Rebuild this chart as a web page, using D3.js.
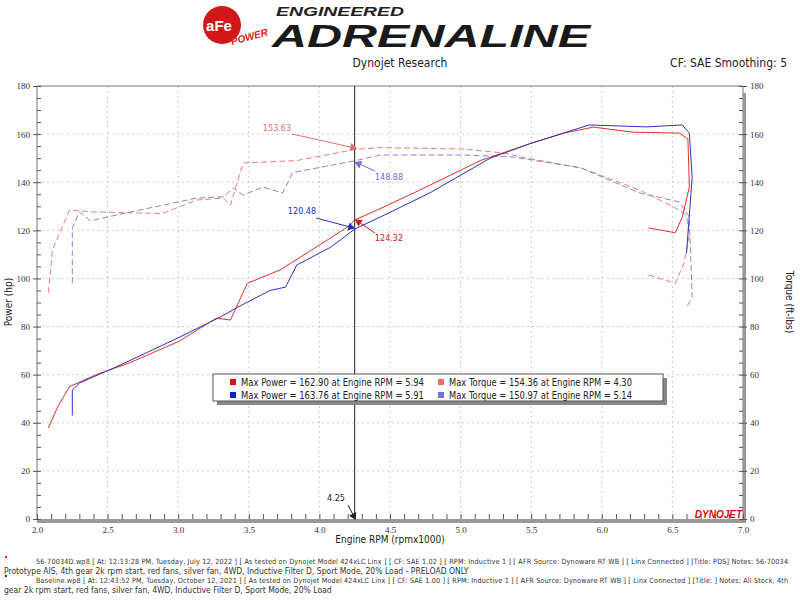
<!DOCTYPE html>
<html><head><meta charset="utf-8">
<script src="https://cdn.jsdelivr.net/npm/d3@7"></script>
<style>body{margin:0;background:#fff}svg{font-family:"DejaVu Sans Condensed","Liberation Sans Narrow",sans-serif}</style>
</head><body><svg id="c" width="800" height="600"></svg>
<script>
const redPower=[[2.08,37.8],[2.15,47],[2.23,55],[2.42,60],[2.66,65],[3.01,74],[3.27,83.5],[3.37,82.7],[3.49,98],[3.72,103.5],[3.95,112],[4.20,121.4],[4.25,124.3],[4.43,129],[4.71,136.7],[5.14,149],[5.49,156],[5.73,160.4],[5.94,162.9],[6.22,160.8],[6.55,160.4],[6.61,158],[6.62,138],[6.57,125.5],[6.52,119],[6.33,121]];
const bluePower=[[2.25,43],[2.25,53.6],[2.30,56.5],[2.59,64],[3.01,75.6],[3.30,84],[3.42,88],[3.65,95],[3.76,96.4],[3.84,105.6],[4.08,113],[4.25,120.5],[4.43,125.5],[4.78,135.5],[5.21,150],[5.49,156],[5.91,163.8],[6.32,163],[6.57,163.8],[6.62,160.4],[6.64,142],[6.60,110.5]];
const redTorque=[[2.08,94],[2.11,112],[2.23,128.4],[2.42,127.6],[2.89,127],[3.13,132.6],[3.32,133.4],[3.37,130.5],[3.46,148],[3.84,149],[4.25,153.6],[4.43,154.4],[5.02,153.8],[5.33,152],[5.42,150.5],[5.85,146],[6.27,136.7],[6.55,128.4],[6.60,126],[6.62,118],[6.58,106],[6.52,98],[6.33,101.4]];
const blueTorque=[[2.25,98],[2.25,121],[2.30,127.6],[2.38,124],[2.66,127.6],[3.13,133.4],[3.32,134],[3.39,137.6],[3.46,134.6],[3.60,138],[3.74,135.5],[3.81,144],[4.08,147],[4.25,148.9],[4.43,151.3],[5.02,151.3],[5.37,150.5],[5.85,146],[6.27,135.5],[6.55,131.8],[6.62,125.5],[6.64,92],[6.60,88]];
const xTicks=[2.0,2.5,3.0,3.5,4.0,4.5,5.0,5.5,6.0,6.5,7.0];
const yTicks=[0,20,40,60,80,100,120,140,160,180];
const legendItems=[["#e01010","Max Power = 162.90 at Engine RPM = 5.94"],["#e86a6a","Max Torque = 154.36 at Engine RPM = 4.30"],["#1020d0","Max Power = 163.76 at Engine RPM = 5.91"],["#7070e0","Max Torque = 150.97 at Engine RPM = 5.14"]];
const notes=[["#e01010","56-70034D.wp8 [ At: 12:13:28 PM, Tuesday, July 12, 2022 ] [ As tested on Dynojet Model 424xLC Linx ] [ CF: SAE 1.02 ] [ RPM: Inductive 1 ] [ AFR Source: Dynoware RT WB ] [ Linx Connected ] [Title: PDS]  Notes: 56-70034","Prototype AIS, 4th gear 2k rpm start, red fans, silver fan, 4WD, Inductive Filter D, Sport Mode, 20% Load - PRELOAD ONLY"],["#1020d0","Baseline.wp8 [ At: 12:43:52 PM, Tuesday, October 12, 2021 ] [ As tested on Dynojet Model 424xLC Linx ] [ CF: SAE 1.00 ] [ RPM: Inductive 1 ] [ AFR Source: Dynoware RT WB ] [ Linx Connected ] [Title: ]  Notes: All Stock, 4th","gear 2k rpm start, red fans, silver fan, 4WD, Inductive Filter D, Sport Mode, 20% Load"]];

const svg=d3.select("#c");
const x=d3.scaleLinear().domain([2,7]).range([37,743]);
const y=d3.scaleLinear().domain([0,180]).range([519,86]);

// header
const lg=svg.append("g");
lg.append("circle").attr("cx",222).attr("cy",25).attr("r",19).attr("fill","#d01818");
lg.append("text").attr("x",219).attr("y",31).attr("text-anchor","middle").attr("font-size",15).attr("font-weight","bold").attr("fill","#fff").attr("font-family","Liberation Sans").text("aFe");
lg.append("text").attr("x",232).attr("y",45).attr("font-size",10).attr("font-style","italic").attr("font-weight","bold").attr("fill","#e02020").attr("font-family","Liberation Sans").attr("transform","rotate(-15,232,45)").text("POWER");
lg.append("text").attr("x",276).attr("y",16).attr("font-size",12).attr("font-style","italic").attr("font-weight","bold").attr("fill","#222").attr("font-family","Liberation Sans").attr("textLength",128).attr("lengthAdjust","spacingAndGlyphs").text("ENGINEERED");
lg.append("text").attr("x",272).attr("y",47).attr("font-size",31).attr("font-style","italic").attr("font-weight","bold").attr("fill","#1a1a1a").attr("font-family","Liberation Sans").attr("textLength",318).attr("lengthAdjust","spacingAndGlyphs").text("ADRENALINE");
svg.append("text").attr("x",400).attr("y",67).attr("text-anchor","middle").attr("font-size",12).attr("fill","#222").text("Dynojet Research");
svg.append("text").attr("x",787).attr("y",67).attr("text-anchor","end").attr("font-size",12).attr("fill","#222").text("CF: SAE Smoothing: 5");

// grid
svg.append("g").selectAll("line").data(xTicks.slice(1,-1)).join("line").attr("x1",d=>x(d)).attr("x2",d=>x(d)).attr("y1",86).attr("y2",519).attr("stroke","#ccc").attr("stroke-dasharray","2,3");
svg.append("g").selectAll("line").data(yTicks.slice(1,-1)).join("line").attr("y1",d=>y(d)).attr("y2",d=>y(d)).attr("x1",37).attr("x2",743).attr("stroke","#ccc").attr("stroke-dasharray","2,3");
svg.append("line").attr("x1",37).attr("x2",743).attr("y1",86).attr("y2",86).attr("stroke","#777");
svg.append("line").attr("x1",37).attr("x2",37).attr("y1",86).attr("y2",519).attr("stroke","#777");
svg.append("line").attr("x1",743).attr("x2",743).attr("y1",86).attr("y2",519).attr("stroke","#777");
svg.append("rect").attr("x",743).attr("y",93).attr("width",3).attr("height",426).attr("fill","#999");
svg.append("rect").attr("x",37).attr("y",519).attr("width",709).attr("height",4).attr("fill","#999");

// axes
const fmt=d3.format(".1f");
const xa=svg.append("g").attr("transform","translate(0,519)").call(d3.axisBottom(x).tickValues(xTicks).tickFormat(fmt).tickSize(0).tickPadding(8));
const xm=svg.append("g").attr("transform","translate(0,519)").call(d3.axisTop(x).ticks(50).tickFormat("").tickSize(5));
const ya=svg.append("g").attr("transform","translate(37,0)").call(d3.axisLeft(y).tickValues(yTicks).tickSize(4).tickPadding(3));
const ym=svg.append("g").attr("transform","translate(37,0)").call(d3.axisRight(y).ticks(36).tickFormat("").tickSize(4));
const yr=svg.append("g").attr("transform","translate(743,0)").call(d3.axisRight(y).tickValues(yTicks).tickSize(4).tickPadding(3));
const yrm=svg.append("g").attr("transform","translate(743,0)").call(d3.axisLeft(y).ticks(36).tickFormat("").tickSize(4));
[xa,xm,ya,ym,yr,yrm].forEach(g=>{g.select(".domain").remove();g.selectAll("line").attr("stroke","#555");g.selectAll("text").attr("font-size",9).attr("fill","#333").attr("font-family","Liberation Serif");});
svg.append("text").attr("x",390).attr("y",543).attr("text-anchor","middle").attr("font-size",10).attr("fill","#222").text("Engine RPM (rpmx1000)");
svg.append("text").attr("transform","translate(12,302) rotate(-90)").attr("text-anchor","middle").attr("font-size",10).attr("fill","#222").text("Power (hp)");
svg.append("text").attr("transform","translate(786,302) rotate(90)").attr("text-anchor","middle").attr("font-size",10).attr("fill","#222").text("Torque (ft-lbs)");
svg.append("text").attr("x",742).attr("y",518).attr("text-anchor","end").attr("font-size",10).attr("font-style","italic").attr("font-weight","bold").attr("fill","#d01010").attr("font-family","Liberation Sans").text("DYNOJET");

// lines
const line=d3.line().x(d=>x(d[0])).y(d=>y(d[1]));
svg.append("path").attr("d",line(redTorque)).attr("fill","none").attr("stroke","#e88080").attr("stroke-dasharray","6,3");
svg.append("path").attr("d",line(blueTorque)).attr("fill","none").attr("stroke","#8888cc").attr("stroke-dasharray","6,3");
svg.append("path").attr("d",line(redPower)).attr("fill","none").attr("stroke","#e03030");
svg.append("path").attr("d",line(bluePower)).attr("fill","none").attr("stroke","#3030c0");

// cursor
svg.append("line").attr("x1",x(4.25)).attr("x2",x(4.25)).attr("y1",86).attr("y2",519).attr("stroke","#222");
function ann(t,tx,ty,lx,ly,ax,ay,col){
 svg.append("line").attr("x1",lx).attr("y1",ly).attr("x2",ax).attr("y2",ay).attr("stroke",col);
 svg.append("path").attr("d",d3.symbol(d3.symbolTriangle,28)()).attr("transform",`translate(${ax},${ay}) rotate(${Math.atan2(ay-ly,ax-lx)*180/Math.PI+90})`).attr("fill",col);
 svg.append("text").attr("x",tx).attr("y",ty).attr("text-anchor","middle").attr("font-size",9).attr("fill",col).text(t);}
ann("153.63",277,131,292,134,x(4.25)-2,y(153.6)-2,"#e07070");
ann("148.88",389,180,375,171,x(4.25)+4,y(148.9)+3,"#7070d0");
ann("120.48",302,214,316,218,x(4.25)-4,y(120.5)-2,"#2030c0");
ann("124.32",389,241,375,233,x(4.25)+4,y(124.3)+2,"#d02020");
ann("4.25",336,501,348,505,x(4.25)-1,y(0)-3,"#222");

// legend
svg.append("rect").attr("x",217).attr("y",378).attr("width",450).attr("height",27).attr("fill","#888");
svg.append("rect").attr("x",213).attr("y",374).attr("width",450).attr("height",27).attr("fill","#fff").attr("stroke","#555");
legendItems.forEach((d,i)=>{const cx=i%2?438:230,cy=i<2?384:397;
 svg.append("rect").attr("x",cx).attr("y",cy-5).attr("width",6).attr("height",6).attr("fill",d[0]);
 svg.append("text").attr("x",cx+11).attr("y",cy+2).attr("font-size",10.5).attr("fill","#222").attr("font-family","DejaVu Sans").attr("textLength",183).attr("lengthAdjust","spacingAndGlyphs").text(d[1]);});

// notes
notes.forEach((n,i)=>{const y0=564+i*19;
 svg.append("rect").attr("x",5).attr("y",y0-8).attr("width",2).attr("height",2).attr("fill",n[0]);
 svg.append("text").attr("x",36).attr("y",y0).attr("font-size",7.2).attr("fill","#333").attr("textLength",752).text(n[1]);
 svg.append("text").attr("x",4).attr("y",y0+10).attr("font-size",8.5).attr("fill","#333").text(n[2]);});
</script></body></html>
